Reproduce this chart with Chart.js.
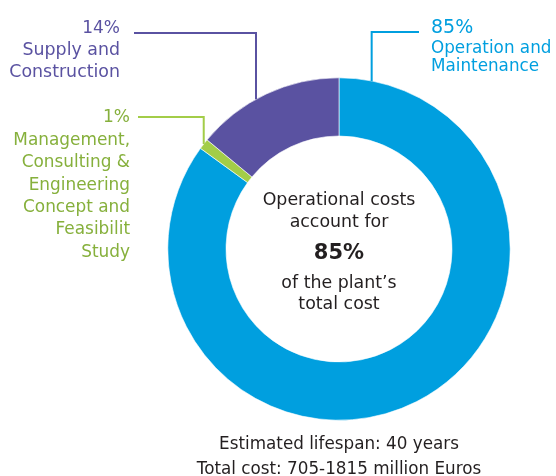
<!DOCTYPE html>
<html>
<head>
<meta charset="utf-8">
<script src="https://cdn.jsdelivr.net/npm/chart.js@4"></script>
<style>
  html, body { margin: 0; padding: 0; background: #fff; }
  #wrap { width: 556px; height: 476px; position: relative; }
</style>
</head>
<body>
<div id="wrap"><canvas id="cost-chart" width="556" height="476"></canvas></div>
<script>
// cost shares (%)
const categories = ["Operation and Maintenance", "Management, Consulting & Engineering Concept and Feasibilit Study", "Supply and Construction"];
const shares = [85, 1, 14];
const sliceColors = ['#009fdf', '#a3cd48', '#5a52a1'];
const textColors = ['#009fdf', '#86b03c', '#5a52a1'];

// label text, line by line
const sliceLabels = [
    ["Operation and", "Maintenance"],
    ["Management,", "Consulting &", "Engineering", "Concept and", "Feasibilit", "Study"],
    ["Supply and", "Construction"]
];
const centerLines = ["Operational costs", "account for", "85%", "of the plant\u2019s", "total cost"];
const footerLines = ["Estimated lifespan: 40 years", "Total cost: 705-1815 million Euros"];

const FONT = '"DejaVu Sans", sans-serif';

// where each leader leaves the ring and where the label sits
const callouts = [
    {angle: 281, elbowY: 32, endX: 419, textX: 431, align: 'left', pctY: 33, pctSize: 19, firstY: 53, step: 18, size: 16.8},
    {angle: 217.8, elbowY: 117, endX: 138, textX: 130, align: 'right', pctY: 122, pctSize: 17, firstY: 145, step: 22.3, size: 16.9},
    {angle: 241, elbowY: 33, endX: 134, textX: 120, align: 'right', pctY: 33, pctSize: 17, firstY: 55, step: 22, size: 17.4}
];

const annotationPlugin = {
    id: 'annotations',
    afterDraw(chart) {
        const c = chart.ctx;
        const arcs = chart.getDatasetMeta(0).data;
        const cx = arcs[0].x, cy = arcs[0].y, r = arcs[0].outerRadius;
        c.save();
        // leaders + labels
        callouts.forEach(function (o, i) {
            const a = o.angle * Math.PI / 180;
            const px = cx + r * Math.cos(a), py = cy + r * Math.sin(a);
            c.strokeStyle = sliceColors[i];
            c.lineWidth = 2;
            c.beginPath();
            c.moveTo(px, py);
            c.lineTo(px, o.elbowY);
            c.lineTo(o.endX, o.elbowY);
            c.stroke();

            c.fillStyle = textColors[i];
            c.textAlign = o.align;
            c.textBaseline = 'alphabetic';
            c.font = o.pctSize + 'px ' + FONT;
            c.fillText(shares[i] + '%', o.textX, o.pctY);
            c.font = o.size + 'px ' + FONT;
            sliceLabels[i].forEach(function (line, k) {
                c.fillText(line, o.textX, o.firstY + k * o.step);
            });
        });

        // centre text
        c.fillStyle = '#231f20';
        c.textAlign = 'center';
        const centreY = [205, 227, 259, 288, 309];
        centerLines.forEach(function (line, k) {
            c.font = (k === 2 ? 'bold 21px ' : '17.4px ') + FONT;
            c.fillText(line, cx, centreY[k]);
        });

        // footer
        c.font = '16.8px ' + FONT;
        footerLines.forEach(function (line, k) {
            c.fillText(line, cx, 449 + k * 25);
        });
        c.restore();
    }
};

const ctx = document.getElementById('cost-chart').getContext('2d');
const costChart = new Chart(ctx, {
    type: 'doughnut',
    data: {
        labels: categories,
        datasets: [{
            data: shares,
            backgroundColor: sliceColors,
            borderColor: '#ffffff',
            borderWidth: 0.6,
            hoverOffset: 0
        }]
    },
    options: {
        responsive: false,
        animation: false,
        events: [],
        cutout: '66%',
        rotation: 0,
        layout: {
            padding: {left: 167.5, right: 45.5, top: 77.5, bottom: 55.5}
        },
        plugins: {
            legend: {display: false},
            tooltip: {enabled: false}
        }
    },
    plugins: [annotationPlugin]
});
</script>
</body>
</html>
